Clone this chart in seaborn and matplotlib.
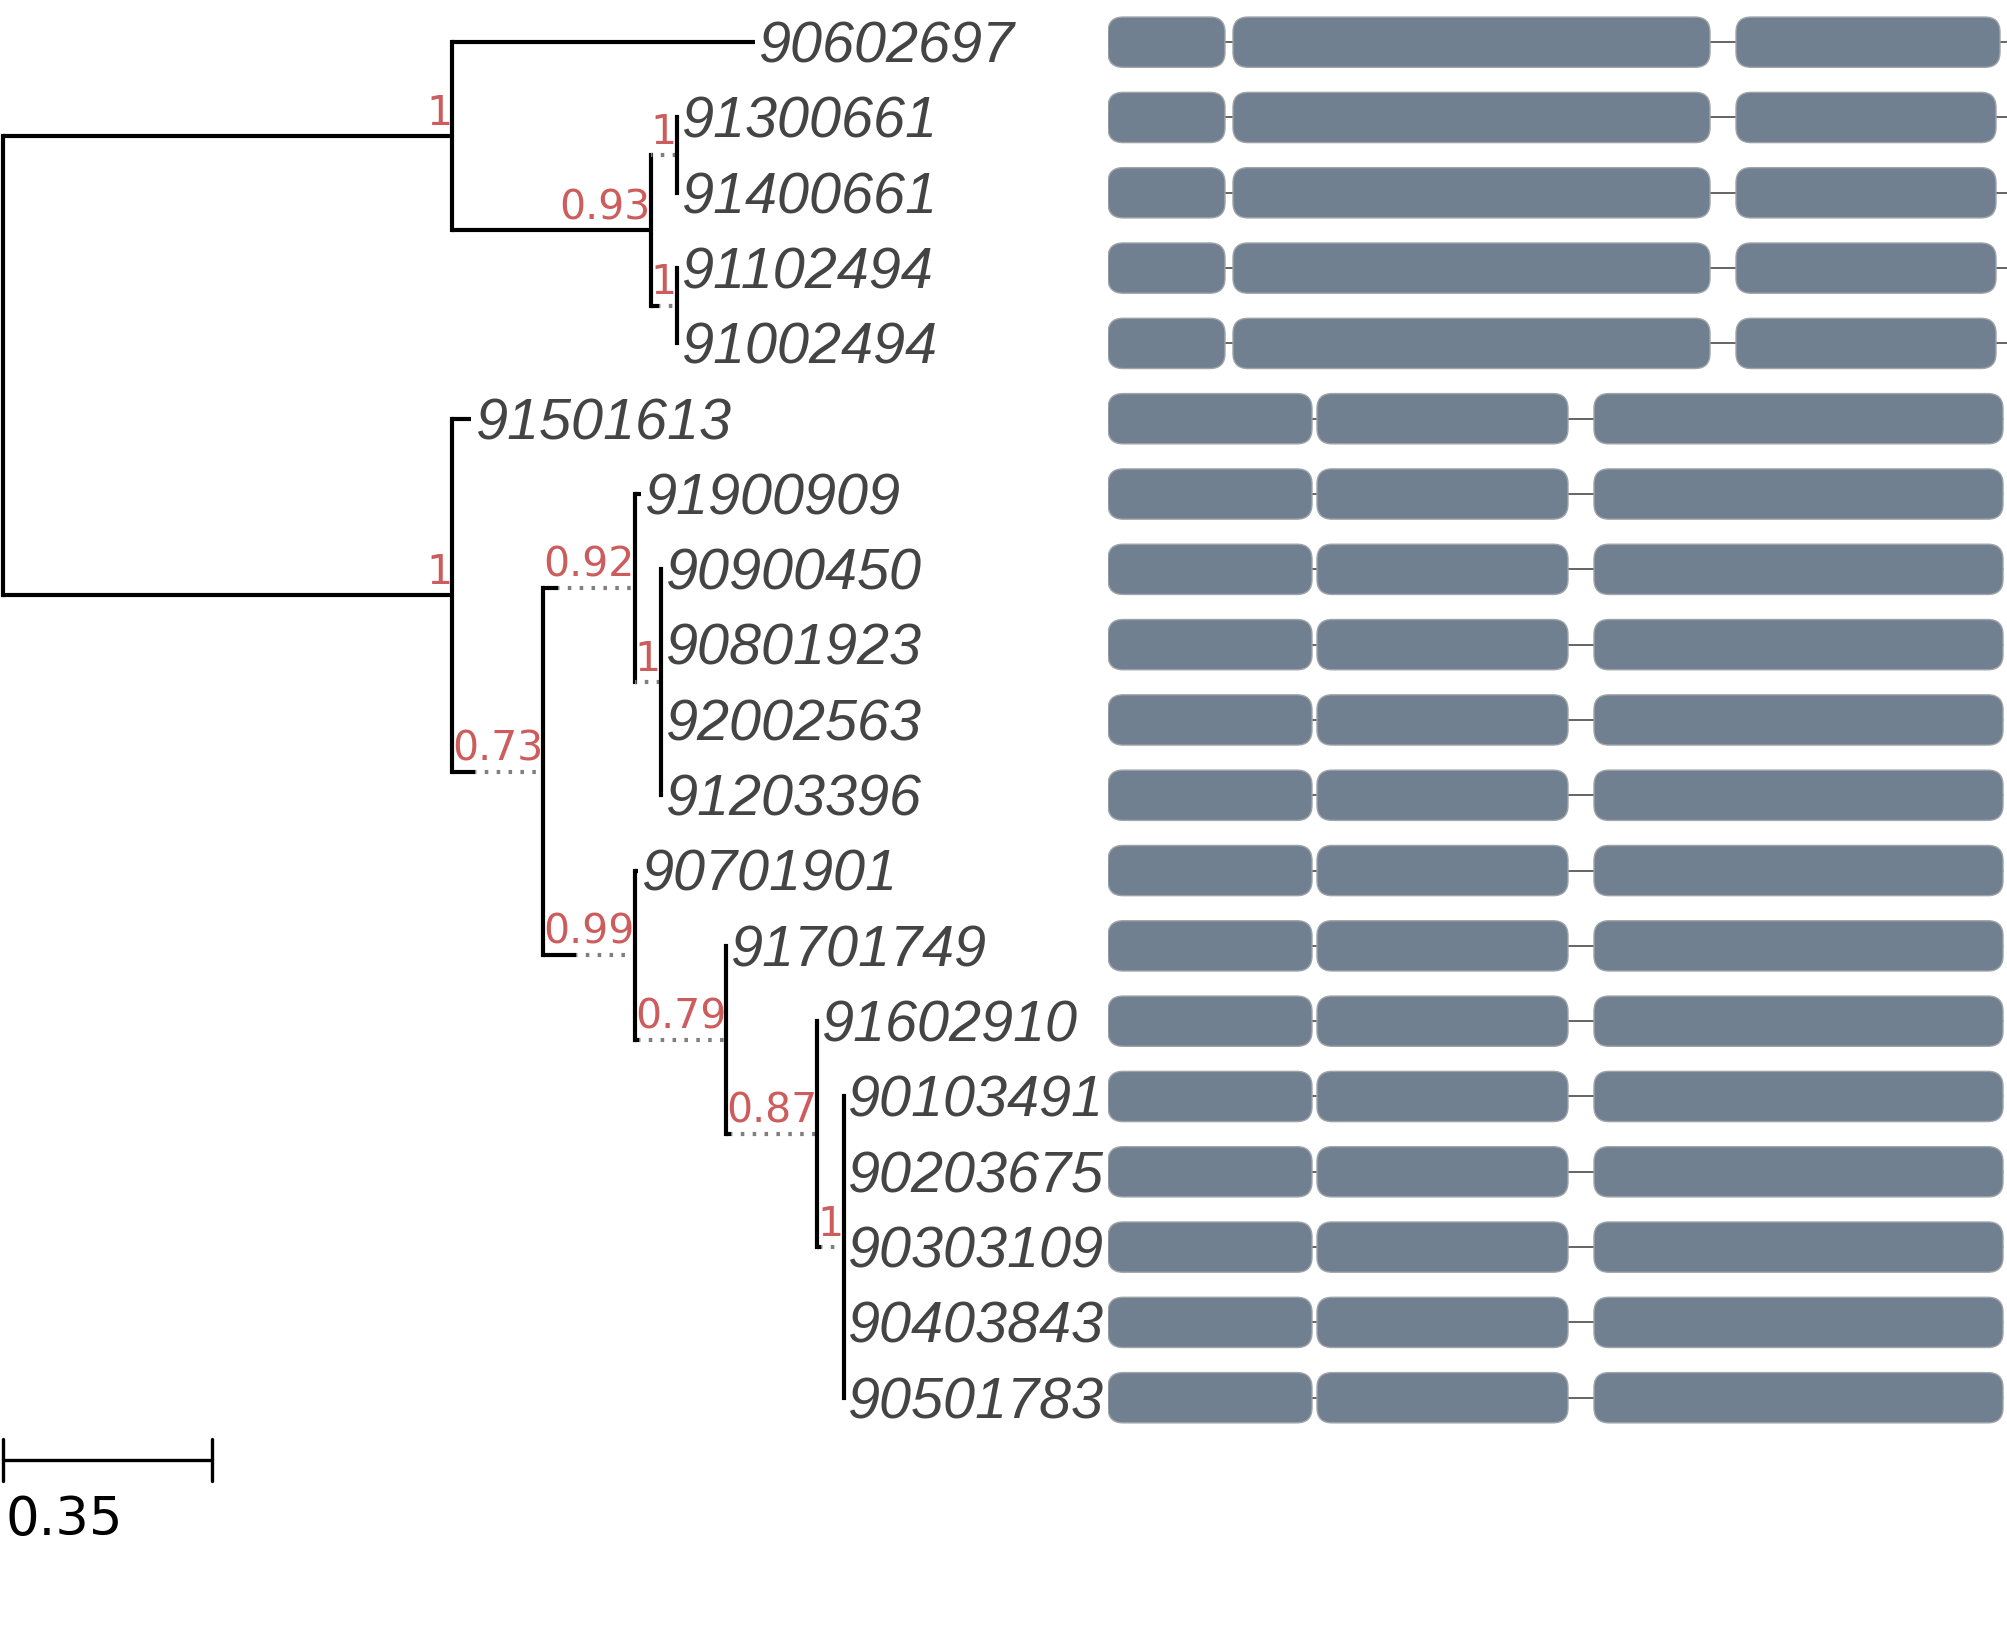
import matplotlib
matplotlib.use("Agg")
import matplotlib.pyplot as plt
import seaborn as sns
from matplotlib.patches import FancyBboxPatch

sns.set_theme(style="white")
plt.rcParams['font.family'] = ['DejaVu Sans']

# tree: newick with support values and branch lengths
tree_newick = (
    "((90602697:0.507,((91300661:0,91400661:0)1:0,(91102494:0,91002494:0)1:0.014)0.93:0.333)1:0.753,"
    "(91501613:0.032,((91900909:0.01,(90900450:0,90801923:0,92002563:0,91203396:0)1:0)0.92:0.025,"
    "(90701901:0.005,(91701749:0,(91602910:0,(90103491:0,90203675:0,90303109:0,90403843:0,"
    "90501783:0)1:0.006)0.87:0.008)0.79:0.007)0.99:0.055)0.73:0.038)1:0.753);"
)
scale_bar_len = 0.35

# gene structures (exon start/end in bp), one per tip in tree order
exons_a1 = [(0, 234), (250, 1204), (1256, 1784)]
exons_a = [(0, 234), (250, 1204), (1256, 1776)]
exons_b = [(0, 408), (418, 920), (972, 1790)]
gene_len_a = 1830
gene_len_b = 1790
tip_gene_type = ["a1", "a", "a", "a", "a"] + ["b"] * 14
gene_models = {"a1": (exons_a1, gene_len_a), "a": (exons_a, gene_len_a), "b": (exons_b, gene_len_b)}


def parse_newick(s):
    pos = 0

    def node():
        nonlocal pos
        n = {"children": [], "name": "", "support": None, "bl": 0.0}
        if s[pos] == "(":
            pos += 1
            while True:
                n["children"].append(node())
                if s[pos] == ",":
                    pos += 1
                else:
                    pos += 1
                    break
        start = pos
        while s[pos] not in ":,);":
            pos += 1
        label = s[start:pos]
        if n["children"]:
            n["support"] = label or None
        else:
            n["name"] = label
        if s[pos] == ":":
            pos += 1
            start = pos
            while s[pos] not in ",);":
                pos += 1
            n["bl"] = float(s[start:pos])
        return n

    return node()


root = parse_newick(tree_newick)

W, H = 2007, 1650
px_per_unit = 596.6
fig = plt.figure(figsize=(W / 100, H / 100), dpi=100)
ax = fig.add_axes([0, 0, 1, 1])
ax.set_xlim(-3 / px_per_unit, (W - 3) / px_per_unit)
ylim = (21.35, -0.56)
ax.set_ylim(*ylim)
ax.axis("off")
renderer = fig.canvas.get_renderer()

sup_kw = dict(family="DejaVu Sans", fontsize=29.5, color="#cd5c5c")
tip_kw = dict(family="Liberation Sans", style="italic", fontsize=41.5, color="#444444")
lw = 3.0

tips = []


def set_y(n):
    if not n["children"]:
        n["y"] = len(tips)
        tips.append(n)
    else:
        for c in n["children"]:
            set_y(c)
        n["y"] = (n["children"][0]["y"] + n["children"][-1]["y"]) / 2


def text_width(txt):
    t = ax.text(0, 0, txt, **sup_kw)
    w = t.get_window_extent(renderer).width
    t.remove()
    return w / px_per_unit


def set_x(n, px):
    x = px + n["bl"]
    if n["support"] is not None:
        x = max(x, px + text_width(n["support"]))
    n["x"] = x
    for c in n["children"]:
        set_x(c, x)


set_y(root)
root["x"] = 0.0
for c in root["children"]:
    set_x(c, 0.0)


def draw(n, px):
    if px is not None:
        solid_end = px + n["bl"]
        if n["bl"] > 0:
            ax.plot([px, solid_end], [n["y"], n["y"]], color="black", lw=lw, solid_capstyle="butt")
        if n["x"] > solid_end + 1e-9:
            ax.plot([solid_end, n["x"]], [n["y"], n["y"]], color="#7f7f7f", lw=lw,
                    linestyle=(0.5, (0.85, 2.0)), dash_capstyle="butt")
        if n["support"] is not None:
            ax.text(n["x"], n["y"] - 0.15, n["support"], ha="right", va="baseline", **sup_kw)
    if n["children"]:
        ax.plot([n["x"], n["x"]], [n["children"][0]["y"], n["children"][-1]["y"]],
                color="black", lw=lw, solid_capstyle="projecting")
        for c in n["children"]:
            draw(c, n["x"])
    else:
        ax.text(n["x"] + 0.006, n["y"] + 0.27, n["name"], ha="left", va="baseline", **tip_kw)


draw(root, None)

# scale bar
sb_y = 18.83
ax.plot([0, scale_bar_len], [sb_y, sb_y], color="black", lw=2.4, solid_capstyle="butt")
for xe in (0, scale_bar_len):
    ax.plot([xe, xe], [sb_y - 0.28, sb_y + 0.28], color="black", lw=2.4)
ax.text(0.004, 19.28, f"{scale_bar_len}", ha="left", va="top", fontsize=38, color="black")

# gene structure panel
g_left = 1108
gax = fig.add_axes([g_left / W, 0, (W - g_left) / W, 1])
bp_per_px = 2.0
gax.set_xlim(0, (W - g_left) * bp_per_px)
gax.set_ylim(*ylim)
gax.axis("off")
row_px = H / (ylim[0] - ylim[1])
aspect = (1 / row_px) / bp_per_px
box_h = 0.667
for tip, gtype in zip(tips, tip_gene_type):
    exons, glen = gene_models[gtype]
    y = tip["y"]
    gax.plot([exons[0][0], glen], [y, y], color="#3a3a3a", lw=1.1, zorder=1)
    for s, e in exons:
        box = FancyBboxPatch((s, y - box_h / 2), e - s, box_h,
                             boxstyle="round,pad=0,rounding_size=30", mutation_aspect=aspect,
                             facecolor="#708090", edgecolor="#a0a4a8", lw=1.0, zorder=2)
        gax.add_patch(box)

fig.savefig("out.png", dpi=100)
